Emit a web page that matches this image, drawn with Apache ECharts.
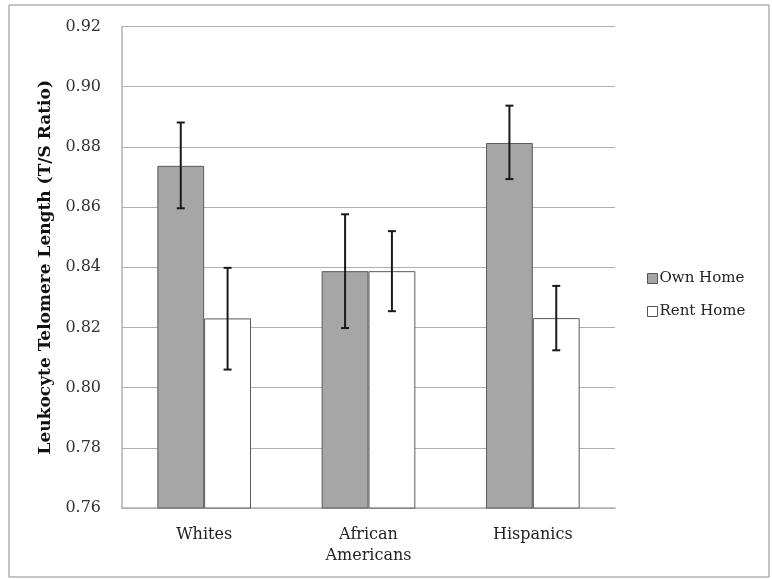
<!DOCTYPE html>
<html><head><meta charset="utf-8">
<script src="https://cdn.jsdelivr.net/npm/echarts@6/dist/echarts.min.js"></script>
<style>html,body{margin:0;padding:0;background:#fff}#c{width:772px;height:579px}</style>
</head><body><div id="c"></div>
<script>
const categories = ['Whites', 'African\nAmericans', 'Hispanics'];
const ownHome = [0.8737, 0.8387, 0.8813];
const rentHome = [0.8230, 0.8387, 0.8231];
const ownLow = [0.8596, 0.8198, 0.8693];
const ownHigh = [0.8881, 0.8576, 0.8937];
const rentLow = [0.8060, 0.8254, 0.8124];
const rentHigh = [0.8398, 0.8520, 0.8338];
const yTicks = {min: 0.76, max: 0.92, interval: 0.02};

const FONT = '"DejaVu Serif", "Liberation Serif", serif';
const chart = echarts.init(document.getElementById('c'));

function errData(low, high) { return categories.map((c, i) => [i, low[i], high[i]]); }
function errRender(sign) {
  return function (params, api) {
    const band = api.size([1, 0])[0];
    const off = sign * band * 0.1425;
    const lo = api.coord([api.value(0), api.value(1)]);
    const hi = api.coord([api.value(0), api.value(2)]);
    const x = lo[0] + off;
    const cap = 4;
    const st = {stroke: '#1a1a1a', lineWidth: 2};
    return {type: 'group', children: [
      {type: 'line', shape: {x1: x, y1: lo[1], x2: x, y2: hi[1]}, style: st},
      {type: 'line', shape: {x1: x - cap, y1: lo[1], x2: x + cap, y2: lo[1]}, style: st},
      {type: 'line', shape: {x1: x - cap, y1: hi[1], x2: x + cap, y2: hi[1]}, style: st}
    ]};
  };
}

chart.setOption({
  animation: false,
  backgroundColor: '#fff',
  graphic: [{type: 'rect', shape: {x: 9, y: 5, width: 760, height: 572}, style: {fill: 'none', stroke: '#8c8c8c', lineWidth: 1}, z: -1}],
  grid: {left: 122, right: 157, top: 26.5, bottom: 71},
  legend: {
    orient: 'vertical', left: 642, top: 266, itemGap: 18,
    itemWidth: 10, itemHeight: 10, icon: 'rect',
    textStyle: {fontFamily: FONT, fontSize: 15, color: '#222', padding: [0, 0, 0, -3]},
    data: [
      {name: 'Own Home', itemStyle: {color: '#a6a6a6', borderColor: '#555', borderWidth: 1}},
      {name: 'Rent Home', itemStyle: {color: '#fff', borderColor: '#555', borderWidth: 1}}
    ]
  },
  xAxis: {
    type: 'category', data: categories,
    axisLine: {lineStyle: {color: '#b0b0b0', width: 1.5}},
    axisTick: {show: false},
    axisLabel: {fontFamily: FONT, fontSize: 16, color: '#222', margin: 16, lineHeight: 21}
  },
  yAxis: {
    type: 'value', min: yTicks.min, max: yTicks.max, interval: yTicks.interval,
    name: 'Leukocyte Telomere Length (T/S Ratio)', nameLocation: 'middle', nameGap: 68,
    nameTextStyle: {fontFamily: FONT, fontSize: 17, fontWeight: 'bold', color: '#111'},
    axisLine: {show: true, lineStyle: {color: '#b0b0b0', width: 1.5}},
    axisTick: {show: false},
    splitLine: {lineStyle: {color: '#b0b0b0', width: 1.2}},
    axisLabel: {fontFamily: FONT, fontSize: 16, color: '#333', margin: 21, formatter: v => v.toFixed(2)}
  },
  series: [
    {name: 'Own Home', type: 'bar', data: ownHome, barGap: '0%', barCategoryGap: '43%',
     itemStyle: {color: '#a6a6a6', borderColor: '#5a5a5a', borderWidth: 1}},
    {name: 'Rent Home', type: 'bar', data: rentHome, barGap: '0%', barCategoryGap: '43%',
     itemStyle: {color: '#fff', borderColor: '#5a5a5a', borderWidth: 1}},
    {name: 'ownErr', type: 'custom', data: errData(ownLow, ownHigh), renderItem: errRender(-1), z: 10,
     encode: {x: 0, y: [1, 2]}},
    {name: 'rentErr', type: 'custom', data: errData(rentLow, rentHigh), renderItem: errRender(1), z: 10,
     encode: {x: 0, y: [1, 2]}}
  ]
});
</script></body></html>
